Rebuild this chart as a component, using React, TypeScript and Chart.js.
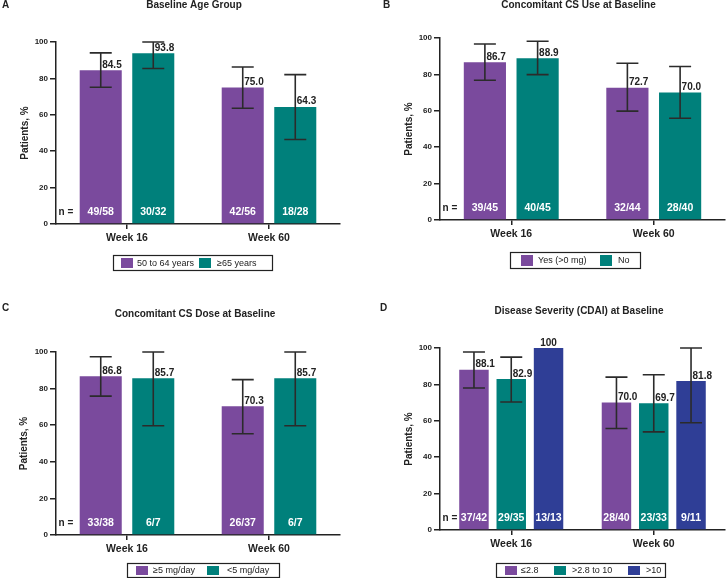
import { useEffect, useRef } from 'react';
import { Chart, registerables } from 'chart.js';
import type { Plugin } from 'chart.js';

Chart.register(...registerables);

const FONT = '"Liberation Sans", Arial, Helvetica, sans-serif';
const INK = '#222222';
const PURPLE = '#7a4a9d';
const TEAL = '#00807b';
const BLUE = '#2f3e96';

const weeks = ['Week 16', 'Week 60'];

// A: baseline age group
const ageLabels = ['50 to 64 years', '≥65 years'];
const age5064 = [84.5, 75.0];
const age5064Lo = [75.1, 63.6];
const age5064Hi = [94.0, 86.3];
const age5064N = ['49/58', '42/56'];
const age65 = [93.8, 64.3];
const age65Lo = [85.4, 46.4];
const age65Hi = [100, 82.1];
const age65N = ['30/32', '18/28'];

// B: concomitant CS use
const csUseLabels = ['Yes (>0 mg)', 'No'];
const csYes = [86.7, 72.7];
const csYesLo = [76.8, 59.8];
const csYesHi = [96.7, 86.1];
const csYesN = ['39/45', '32/44'];
const csNo = [88.9, 70.0];
const csNoLo = [79.9, 55.9];
const csNoHi = [98.2, 84.3];
const csNoN = ['40/45', '28/40'];

// C: concomitant CS dose
const doseLabels = ['≥5 mg/day', '<5 mg/day'];
const doseHigh = [86.8, 70.3];
const doseHighLo = [75.9, 55.3];
const doseHighHi = [97.4, 84.9];
const doseHighN = ['33/38', '26/37'];
const doseLow = [85.7, 85.7];
const doseLowLo = [59.7, 59.7];
const doseLowHi = [100, 100];
const doseLowN = ['6/7', '6/7'];

// D: disease severity (CDAI)
const cdaiLabels = ['≤2.8', '>2.8 to 10', '>10'];
const cdaiLow = [88.1, 70.0];
const cdaiLowLo = [78.0, 55.8];
const cdaiLowHi = [97.8, 84.0];
const cdaiLowN = ['37/42', '28/40'];
const cdaiMid = [82.9, 69.7];
const cdaiMidLo = [70.3, 53.9];
const cdaiMidHi = [95.0, 85.3];
const cdaiMidN = ['29/35', '23/33'];
const cdaiHigh = [100, 81.8];
const cdaiHighLo = [null, 58.9];
const cdaiHighHi = [null, 100];
const cdaiHighN = ['13/13', '9/11'];

type Series = {
  label: string;
  color: string;
  values: number[];
  lo: (number | null)[];
  hi: (number | null)[];
  n: string[];
};

type PanelSpec = {
  letter: string;
  title: string;
  x: number;
  y: number;
  area: { left: number; right: number; top: number; bottom: number };
  yTitleX: number;
  titlePos: [number, number];
  letterPos: [number, number];
  legendBox: [number, number, number, number];
  swatchX: number[];
  textX: number[];
  catPct: number;
  barPct: number;
  series: Series[];
};

const W = 363;
const H = 289;

const panels: PanelSpec[] = [
  {
    letter: 'A',
    title: 'Baseline Age Group',
    x: 0,
    y: 0,
    area: { left: 56, right: 340, top: 42, bottom: 224 },
    yTitleX: 25,
    titlePos: [194, 5],
    letterPos: [2, 5],
    legendBox: [113, 255, 159, 15],
    swatchX: [121, 199],
    textX: [137, 217],
    catPct: 0.74,
    barPct: 0.8,
    series: [
      { label: ageLabels[0], color: PURPLE, values: age5064, lo: age5064Lo, hi: age5064Hi, n: age5064N },
      { label: ageLabels[1], color: TEAL, values: age65, lo: age65Lo, hi: age65Hi, n: age65N },
    ],
  },
  {
    letter: 'B',
    title: 'Concomitant CS Use at Baseline',
    x: 363,
    y: 0,
    area: { left: 77, right: 362, top: 38, bottom: 220 },
    yTitleX: 46.5,
    titlePos: [215.5, 5],
    letterPos: [20, 5],
    legendBox: [147, 252, 130, 16],
    swatchX: [158, 237],
    textX: [175, 255],
    catPct: 0.74,
    barPct: 0.8,
    series: [
      { label: csUseLabels[0], color: PURPLE, values: csYes, lo: csYesLo, hi: csYesHi, n: csYesN },
      { label: csUseLabels[1], color: TEAL, values: csNo, lo: csNoLo, hi: csNoHi, n: csNoN },
    ],
  },
  {
    letter: 'C',
    title: 'Concomitant CS Dose at Baseline',
    x: 0,
    y: 289,
    area: { left: 56, right: 340, top: 63, bottom: 246 },
    yTitleX: 24,
    titlePos: [195, 25.5],
    letterPos: [2, 19.5],
    legendBox: [127, 274, 152, 14],
    swatchX: [136, 207],
    textX: [153, 227],
    catPct: 0.74,
    barPct: 0.8,
    series: [
      { label: doseLabels[0], color: PURPLE, values: doseHigh, lo: doseHighLo, hi: doseHighHi, n: doseHighN },
      { label: doseLabels[1], color: TEAL, values: doseLow, lo: doseLowLo, hi: doseLowHi, n: doseLowN },
    ],
  },
  {
    letter: 'D',
    title: 'Disease Severity (CDAI) at Baseline',
    x: 363,
    y: 289,
    area: { left: 77, right: 362, top: 59, bottom: 241 },
    yTitleX: 46,
    titlePos: [216, 22],
    letterPos: [17, 19.5],
    legendBox: [133, 274, 169, 14],
    swatchX: [142, 191, 265],
    textX: [158, 209, 283],
    catPct: 0.785,
    barPct: 0.79,
    series: [
      { label: cdaiLabels[0], color: PURPLE, values: cdaiLow, lo: cdaiLowLo, hi: cdaiLowHi, n: cdaiLowN },
      { label: cdaiLabels[1], color: TEAL, values: cdaiMid, lo: cdaiMidLo, hi: cdaiMidHi, n: cdaiMidN },
      { label: cdaiLabels[2], color: BLUE, values: cdaiHigh, lo: cdaiHighLo, hi: cdaiHighHi, n: cdaiHighN },
    ],
  },
];

// error bars, value labels, n counts, title, panel letter and boxed legend
const panelDecor: Plugin<'bar'> = {
  id: 'panelDecor',
  afterDraw(chart, _args, opts: any) {
    const spec = opts.spec as PanelSpec;
    const ctx = chart.ctx;
    const yScale = chart.scales.y;
    const base = yScale.getPixelForValue(0);
    const area = chart.chartArea;

    ctx.save();
    spec.series.forEach((s, i) => {
      const meta = chart.getDatasetMeta(i);
      meta.data.forEach((bar: any, j: number) => {
        const x = bar.x;
        const lo = s.lo[j];
        const hi = s.hi[j];
        const top = yScale.getPixelForValue(s.values[j]);

        if (lo != null && hi != null) {
          const yLo = yScale.getPixelForValue(lo);
          const yHi = yScale.getPixelForValue(hi);
          ctx.strokeStyle = '#2b2b2b';
          ctx.lineWidth = 1.6;
          ctx.beginPath();
          ctx.moveTo(x, yLo);
          ctx.lineTo(x, yHi);
          ctx.moveTo(x - 11, yLo);
          ctx.lineTo(x + 11, yLo);
          ctx.moveTo(x - 11, yHi);
          ctx.lineTo(x + 11, yHi);
          ctx.stroke();
        }

        ctx.fillStyle = INK;
        ctx.font = `bold 10px ${FONT}`;
        ctx.textBaseline = 'alphabetic';
        const txt = s.values[j] === 100 ? '100' : s.values[j].toFixed(1);
        if (lo != null && hi != null) {
          ctx.textAlign = 'left';
          ctx.fillText(txt, x + 1.5, top - 2.5);
        } else {
          ctx.textAlign = 'center';
          ctx.fillText(txt, x, top - 2.5);
        }

        ctx.fillStyle = '#ffffff';
        ctx.font = `bold 10.5px ${FONT}`;
        ctx.textAlign = 'center';
        ctx.textBaseline = 'middle';
        ctx.fillText(s.n[j], x, base - 12);
      });
    });

    ctx.fillStyle = INK;
    ctx.font = `bold 10px ${FONT}`;
    ctx.textAlign = 'left';
    ctx.textBaseline = 'middle';
    ctx.fillText('n =', area.left + 2.5, base - 12);

    ctx.fillText(spec.letter, spec.letterPos[0], spec.letterPos[1]);
    ctx.textAlign = 'center';
    ctx.fillText(spec.title, spec.titlePos[0], spec.titlePos[1]);

    const [bx, by, bw, bh] = spec.legendBox;
    ctx.strokeStyle = INK;
    ctx.lineWidth = 1.2;
    ctx.strokeRect(bx + 0.5, by + 0.5, bw, bh);
    ctx.font = `9px ${FONT}`;
    ctx.textAlign = 'left';
    spec.series.forEach((s, i) => {
      ctx.fillStyle = s.color;
      ctx.fillRect(spec.swatchX[i], by + 3, 12, bh - 5);
      ctx.fillStyle = INK;
      ctx.fillText(s.label, spec.textX[i], by + bh / 2 + 1);
    });
    ctx.restore();
  },
};

function Panel({ spec }: { spec: PanelSpec }) {
  const canvasRef = useRef<HTMLCanvasElement | null>(null);

  useEffect(() => {
    const canvas = canvasRef.current;
    if (!canvas) return;
    const padL = spec.yTitleX - 6;
    const { area } = spec;

    const chart = new Chart(canvas, {
      type: 'bar',
      data: {
        labels: weeks,
        datasets: spec.series.map((s) => ({
          label: s.label,
          data: s.values,
          backgroundColor: s.color,
          borderWidth: 0,
          categoryPercentage: spec.catPct,
          barPercentage: spec.barPct,
        })),
      },
      options: {
        animation: false,
        responsive: false,
        events: [],
        layout: { padding: { left: padL, top: area.top, right: W - area.right, bottom: 0 } },
        plugins: {
          legend: { display: false },
          title: { display: false },
          tooltip: { enabled: false },
          // @ts-ignore custom plugin options
          panelDecor: { spec },
        },
        scales: {
          x: {
            grid: { drawOnChartArea: false, offset: false, tickLength: 5, color: INK, lineWidth: 1.5 },
            border: { color: INK, width: 1.5 },
            ticks: { font: { family: FONT, size: 10.5, weight: 'bold' }, color: INK, padding: 3 },
            afterFit: (s: any) => {
              s.height = H - area.bottom;
            },
          },
          y: {
            min: 0,
            max: 100,
            ticks: { stepSize: 20, font: { family: FONT, size: 8, weight: 'bold' }, color: INK, padding: 2 },
            grid: { drawOnChartArea: false, tickLength: 6, color: INK, lineWidth: 1.5 },
            border: { color: INK, width: 1.5 },
            title: {
              display: true,
              text: 'Patients, %',
              font: { family: FONT, size: 10, weight: 'bold', lineHeight: 1.2 },
              color: INK,
              padding: 0,
            },
            afterFit: (s: any) => {
              s.width = area.left - padL;
            },
          },
        },
      },
      plugins: [panelDecor],
    });

    return () => {
      chart.destroy();
    };
  }, [spec]);

  return (
    <canvas
      ref={canvasRef}
      width={W}
      height={H}
      style={{ position: 'absolute', left: spec.x, top: spec.y, width: W, height: H }}
    />
  );
}

export default function App() {
  return (
    <div style={{ position: 'absolute', left: 0, top: 0, width: 726, height: 578, background: '#ffffff', overflow: 'hidden' }}>
      {panels.map((p) => (
        <Panel key={p.letter} spec={p} />
      ))}
    </div>
  );
}
